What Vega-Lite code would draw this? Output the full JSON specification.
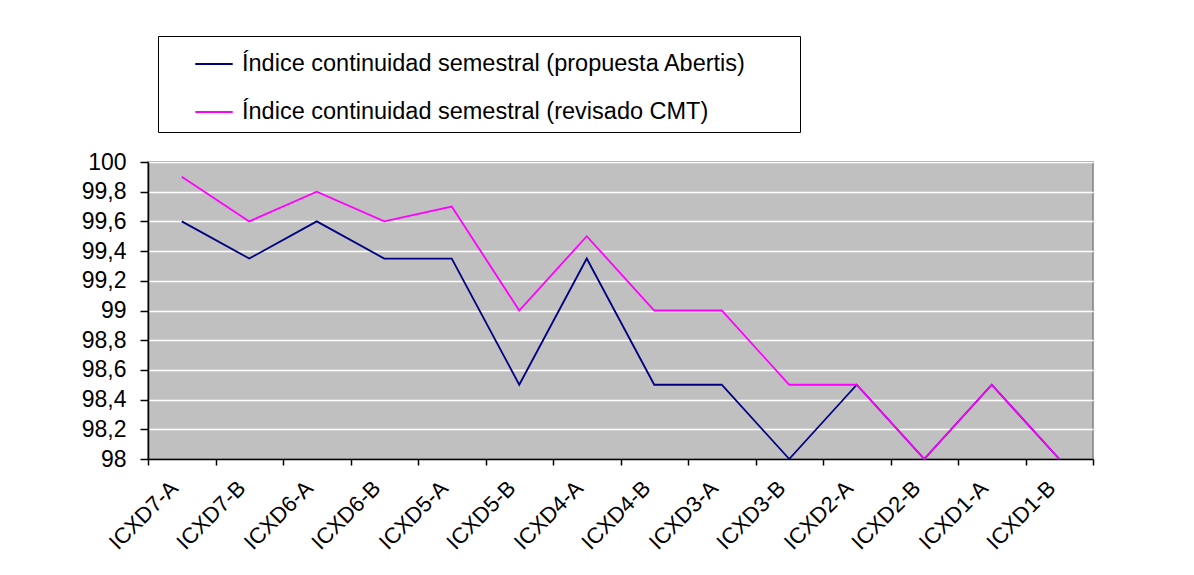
{
  "$schema": "https://vega.github.io/schema/vega-lite/v6.json",
  "autosize": {"type": "none"},
  "width": 945,
  "height": 297,
  "padding": {"left": 148, "top": 162, "right": 101, "bottom": 116},
  "background": "white",
  "config": {
    "font": "Liberation Sans",
    "view": {"fill": "#C0C0C0", "stroke": "#808080", "strokeWidth": 1.5}
  },
  "data": {
    "values": [
      {"cat": "ICXD7-A", "serie": "Índice continuidad semestral (propuesta Abertis)", "valor": 99.6},
      {"cat": "ICXD7-B", "serie": "Índice continuidad semestral (propuesta Abertis)", "valor": 99.35},
      {"cat": "ICXD6-A", "serie": "Índice continuidad semestral (propuesta Abertis)", "valor": 99.6},
      {"cat": "ICXD6-B", "serie": "Índice continuidad semestral (propuesta Abertis)", "valor": 99.35},
      {"cat": "ICXD5-A", "serie": "Índice continuidad semestral (propuesta Abertis)", "valor": 99.35},
      {"cat": "ICXD5-B", "serie": "Índice continuidad semestral (propuesta Abertis)", "valor": 98.5},
      {"cat": "ICXD4-A", "serie": "Índice continuidad semestral (propuesta Abertis)", "valor": 99.35},
      {"cat": "ICXD4-B", "serie": "Índice continuidad semestral (propuesta Abertis)", "valor": 98.5},
      {"cat": "ICXD3-A", "serie": "Índice continuidad semestral (propuesta Abertis)", "valor": 98.5},
      {"cat": "ICXD3-B", "serie": "Índice continuidad semestral (propuesta Abertis)", "valor": 98.0},
      {"cat": "ICXD2-A", "serie": "Índice continuidad semestral (propuesta Abertis)", "valor": 98.5},
      {"cat": "ICXD2-B", "serie": "Índice continuidad semestral (propuesta Abertis)", "valor": 98.0},
      {"cat": "ICXD1-A", "serie": "Índice continuidad semestral (propuesta Abertis)", "valor": 98.5},
      {"cat": "ICXD1-B", "serie": "Índice continuidad semestral (propuesta Abertis)", "valor": 98.0},
      {"cat": "ICXD7-A", "serie": "Índice continuidad semestral (revisado CMT)", "valor": 99.9},
      {"cat": "ICXD7-B", "serie": "Índice continuidad semestral (revisado CMT)", "valor": 99.6},
      {"cat": "ICXD6-A", "serie": "Índice continuidad semestral (revisado CMT)", "valor": 99.8},
      {"cat": "ICXD6-B", "serie": "Índice continuidad semestral (revisado CMT)", "valor": 99.6},
      {"cat": "ICXD5-A", "serie": "Índice continuidad semestral (revisado CMT)", "valor": 99.7},
      {"cat": "ICXD5-B", "serie": "Índice continuidad semestral (revisado CMT)", "valor": 99.0},
      {"cat": "ICXD4-A", "serie": "Índice continuidad semestral (revisado CMT)", "valor": 99.5},
      {"cat": "ICXD4-B", "serie": "Índice continuidad semestral (revisado CMT)", "valor": 99.0},
      {"cat": "ICXD3-A", "serie": "Índice continuidad semestral (revisado CMT)", "valor": 99.0},
      {"cat": "ICXD3-B", "serie": "Índice continuidad semestral (revisado CMT)", "valor": 98.5},
      {"cat": "ICXD2-A", "serie": "Índice continuidad semestral (revisado CMT)", "valor": 98.5},
      {"cat": "ICXD2-B", "serie": "Índice continuidad semestral (revisado CMT)", "valor": 98.0},
      {"cat": "ICXD1-A", "serie": "Índice continuidad semestral (revisado CMT)", "valor": 98.5},
      {"cat": "ICXD1-B", "serie": "Índice continuidad semestral (revisado CMT)", "valor": 98.0}
    ]
  },
  "mark": {"type": "line", "strokeWidth": 1.8},
  "encoding": {
    "x": {
      "field": "cat",
      "type": "nominal",
      "sort": null,
      "scale": {"type": "band", "paddingInner": 0, "paddingOuter": 0},
      "axis": {
        "title": null,
        "labelAngle": -45,
        "labelFontSize": 22,
        "labelColor": "black",
        "labelPadding": 12,
        "labelOffset": -15,
        "domainColor": "black",
        "domainWidth": 1.5,
        "tickColor": "black",
        "tickWidth": 1.5,
        "tickSize": 6,
        "tickBand": "extent",
        "grid": false
      }
    },
    "y": {
      "field": "valor",
      "type": "quantitative",
      "scale": {"domain": [98, 100], "nice": false, "zero": false},
      "axis": {
        "title": null,
        "values": [98, 98.2, 98.4, 98.6, 98.8, 99, 99.2, 99.4, 99.6, 99.8, 100],
        "labelExpr": "replace(format(datum.value, '~g'), '.', ',')",
        "labelFontSize": 23,
        "labelColor": "black",
        "labelPadding": 14,
        "domainColor": "black",
        "domainWidth": 1.5,
        "tickColor": "black",
        "tickWidth": 1.5,
        "tickSize": 8,
        "grid": true,
        "gridColor": "white",
        "gridWidth": 1.5,
        "gridOpacity": 1
      }
    },
    "color": {
      "field": "serie",
      "type": "nominal",
      "scale": {
        "domain": ["Índice continuidad semestral (propuesta Abertis)", "Índice continuidad semestral (revisado CMT)"],
        "range": ["#000080", "#FF00FF"]
      },
      "legend": {
        "title": null,
        "orient": "none",
        "legendX": 10,
        "legendY": -126,
        "direction": "vertical",
        "strokeColor": "black",
        "fillColor": "white",
        "padding": 8,
        "symbolType": "stroke",
        "symbolSize": 1400,
        "symbolStrokeWidth": 1.8,
        "symbolOffset": 28,
        "labelOffset": 8,
        "labelFontSize": 23.5,
        "labelColor": "black",
        "labelLimit": 0,
        "rowPadding": 16,
        "labelExpr": "datum.label + '\u00a0\u00a0\u00a0\u00a0\u00a0\u00a0\u00a0\u200b'"
      }
    }
  }
}
